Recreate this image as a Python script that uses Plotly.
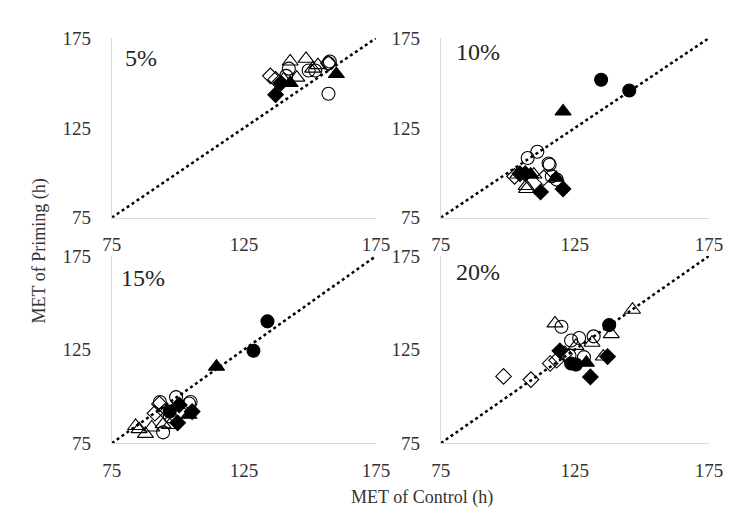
import plotly.graph_objects as go

# ---------------- data (MET of Control, MET of Priming) ----------------
panel_labels = ["5%", "10%", "15%", "20%"]
tick_vals = [75, 125, 175]
axis_min, axis_max = 75, 175

# 5 %
p5_open_circle_x = [142, 149.5, 152, 157, 157.5, 157, 141]
p5_open_circle_y = [158, 157, 157, 161, 162, 144, 154]
p5_fill_circle_x = []
p5_fill_circle_y = []
p5_open_tri_x = [142.5, 148.5, 153, 145, 140, 151]
p5_open_tri_y = [162, 163.5, 160, 153, 152, 158]
p5_fill_tri_x = [160, 142.5]
p5_fill_tri_y = [155, 150]
p5_open_dia_x = [135, 137, 157]
p5_open_dia_y = [154, 152, 161]
p5_fill_dia_x = [139, 137]
p5_fill_dia_y = [150, 143.5]

# 10 %
p10_open_circle_x = [107.4, 111, 115.2, 115.6, 116.4, 118.2]
p10_open_circle_y = [108.2, 111.7, 105.2, 104.5, 98, 96.2]
p10_fill_circle_x = [134.8, 145.3]
p10_fill_circle_y = [151.8, 145.8]
p10_open_tri_x = [106.8, 107, 103.7, 109.7]
p10_open_tri_y = [92.6, 91, 99, 99]
p10_fill_tri_x = [120.6, 118, 108.5]
p10_fill_tri_y = [134.2, 97.2, 99]
p10_open_dia_x = [102.5, 113.4]
p10_open_dia_y = [98, 97.2]
p10_fill_dia_x = [112.2, 120.6, 104.5, 106.5]
p10_fill_dia_y = [89.3, 91, 99.5, 99.5]

# 15 %
p15_open_circle_x = [93.2, 99.3, 104.2, 104.8, 94.4, 96.9]
p15_open_circle_y = [97, 99.6, 96.2, 97, 80.8, 89.4]
p15_fill_circle_x = [133.9, 128.6, 96.9]
p15_fill_circle_y = [140.1, 124.4, 91.9]
p15_open_tri_x = [84, 85.3, 87.7, 90.1, 94.4, 96.9]
p15_open_tri_y = [84.2, 82.5, 80, 83.4, 85.1, 84.7]
p15_fill_tri_x = [114.6, 104.2]
p15_fill_tri_y = [115.9, 90.2]
p15_open_dia_x = [91.3, 95, 93]
p15_open_dia_y = [91, 91.9, 96]
p15_fill_dia_x = [100.5, 105.4, 99.9]
p15_fill_dia_y = [95.4, 91.9, 85.9]

# 20 %
p20_open_circle_x = [120, 123.6, 126.6, 132, 123, 128.4]
p20_open_circle_y = [137.2, 129.9, 131.2, 132.1, 121.8, 121]
p20_fill_circle_x = [137.8, 123.6, 125.4]
p20_fill_circle_y = [138.1, 117.6, 117]
p20_open_tri_x = [146.5, 138.6, 117.6, 131.4, 125.4, 135.6]
p20_open_tri_y = [146.3, 133.3, 139, 128.7, 127, 121.3]
p20_fill_tri_x = [129.3]
p20_fill_tri_y = [118]
p20_open_dia_x = [121.2, 118.2, 115.8, 108.6, 98.4]
p20_open_dia_y = [122.7, 119.3, 117.6, 109, 110.7]
p20_fill_dia_x = [119.4, 137.2, 130.8]
p20_fill_dia_y = [124.4, 121.3, 110.4]

panels = [
    dict(oc=(p5_open_circle_x, p5_open_circle_y), fc=(p5_fill_circle_x, p5_fill_circle_y),
         ot=(p5_open_tri_x, p5_open_tri_y), ft=(p5_fill_tri_x, p5_fill_tri_y),
         od=(p5_open_dia_x, p5_open_dia_y), fd=(p5_fill_dia_x, p5_fill_dia_y)),
    dict(oc=(p10_open_circle_x, p10_open_circle_y), fc=(p10_fill_circle_x, p10_fill_circle_y),
         ot=(p10_open_tri_x, p10_open_tri_y), ft=(p10_fill_tri_x, p10_fill_tri_y),
         od=(p10_open_dia_x, p10_open_dia_y), fd=(p10_fill_dia_x, p10_fill_dia_y)),
    dict(oc=(p15_open_circle_x, p15_open_circle_y), fc=(p15_fill_circle_x, p15_fill_circle_y),
         ot=(p15_open_tri_x, p15_open_tri_y), ft=(p15_fill_tri_x, p15_fill_tri_y),
         od=(p15_open_dia_x, p15_open_dia_y), fd=(p15_fill_dia_x, p15_fill_dia_y)),
    dict(oc=(p20_open_circle_x, p20_open_circle_y), fc=(p20_fill_circle_x, p20_fill_circle_y),
         ot=(p20_open_tri_x, p20_open_tri_y), ft=(p20_fill_tri_x, p20_fill_tri_y),
         od=(p20_open_dia_x, p20_open_dia_y), fd=(p20_fill_dia_x, p20_fill_dia_y)),
]

# ---------------- styling ----------------
W, H = 741, 523
FONT = "Liberation Serif, Times New Roman, serif"
TXT = "#333333"
styles = {
    "oc": dict(symbol="circle-open", size=13),
    "fc": dict(symbol="circle", size=13),
    "ot": dict(symbol="triangle-up-open", size=14),
    "ft": dict(symbol="triangle-up", size=14),
    "od": dict(symbol="diamond-open", size=12),
    "fd": dict(symbol="diamond", size=12),
}

# pixel boxes of the plot areas (left, right, top, bottom)
boxes = [(97, 370, 21, 208), (437, 714, 21, 208),
         (97, 370, 248, 443), (437, 714, 248, 443)]
label_pos = [(127, 42), (475, 35), (129, 271), (475, 265)]

fig = go.Figure()
layout = dict(width=W, height=H, margin=dict(l=0, r=0, t=0, b=0),
              paper_bgcolor="white", plot_bgcolor="white", showlegend=False,
              font=dict(family=FONT, size=19, color=TXT))

annotations = []
for i, (pan, box) in enumerate(zip(panels, boxes)):
    n = "" if i == 0 else str(i + 1)
    xa, ya = "x" + n, "y" + n
    # 1:1 line
    fig.add_trace(go.Scatter(x=[axis_min, axis_max], y=[axis_min, axis_max], mode="lines",
                             line=dict(color="black", width=2.5, dash="dot"),
                             xaxis=xa, yaxis=ya, hoverinfo="skip"))
    for key in ["od", "ot", "oc", "fd", "ft", "fc"]:
        xs, ys = pan[key]
        st = styles[key]
        fig.add_trace(go.Scatter(x=xs, y=ys, mode="markers", xaxis=xa, yaxis=ya,
                                 marker=dict(symbol=st["symbol"], size=st["size"], color="black",
                                             line=dict(color="black", width=1.1))))
    l, r, t, b = box
    ax_common = dict(range=[axis_min, axis_max], tickvals=tick_vals, showgrid=False,
                     zeroline=False, showline=True, linecolor="#d9d9d9", linewidth=1,
                     ticks="", tickfont=dict(family=FONT, size=19, color=TXT))
    layout["xaxis" + n] = dict(ax_common, domain=[l / W, r / W], anchor=ya,
                               ticklabelstandoff=10)
    layout["yaxis" + n] = dict(ax_common, domain=[1 - b / H, 1 - t / H], anchor=xa,
                               ticklabelstandoff=16)
    lx, ly = label_pos[i]
    annotations.append(dict(text=panel_labels[i], x=lx / W, y=1 - ly / H, xref="paper",
                            yref="paper", showarrow=False, xanchor="center", yanchor="middle",
                            font=dict(family=FONT, size=24, color="#262626")))

annotations.append(dict(text="MET of Control (h)", x=418 / W, y=1 - 500 / H, xref="paper",
                        yref="paper", showarrow=False, xanchor="center", yanchor="middle",
                        font=dict(family=FONT, size=18, color=TXT)))
annotations.append(dict(text="MET of Priming (h)", x=22 / W, y=1 - 243 / H, xref="paper",
                        yref="paper", showarrow=False, xanchor="center", yanchor="middle",
                        textangle=-90, font=dict(family=FONT, size=18, color=TXT)))
layout["annotations"] = annotations
fig.update_layout(**layout)
fig.write_html("out.html")
